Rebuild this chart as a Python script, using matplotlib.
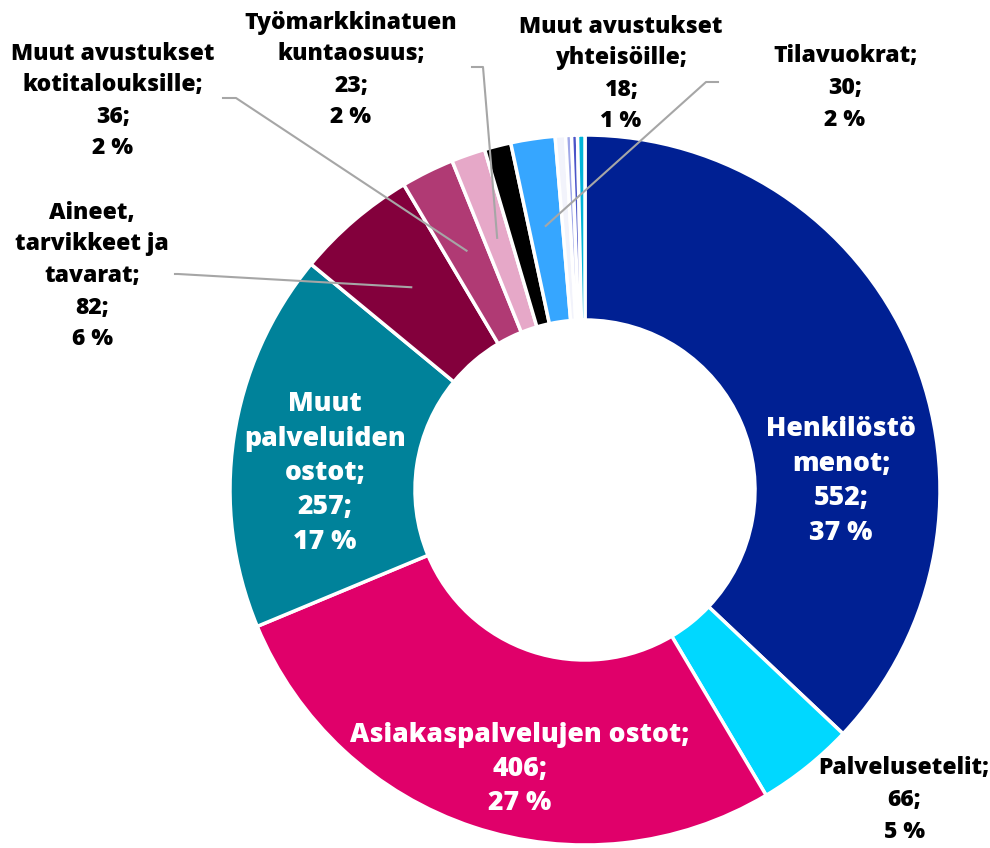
import numpy as np
import matplotlib.pyplot as plt

plt.rcParams['font.family'] = ['Open Sans', 'DejaVu Sans']

# data
categories = ['Henkilöstö\nmenot', 'Palvelusetelit', 'Asiakaspalvelujen ostot',
              'Muut\npalveluiden\nostot', 'Aineet,\ntarvikkeet ja\ntavarat',
              'Muut avustukset\nkotitalouksille', 'Työmarkkinatuen\nkuntaosuus',
              'Muut avustukset\nyhteisöille', 'Tilavuokrat', 'muu 1', 'muu 2', 'muu 3', 'muu 4']
values = [552, 66, 406, 257, 82, 36, 23, 18, 30, 7, 4, 4, 5]
percents = [37, 5, 27, 17, 6, 2, 2, 1, 2, 0, 0, 0, 0]
colors = ['#002093', '#00d8ff', '#e0006a', '#00829a', '#83003c', '#b03a74', '#e6a8c8',
          '#000000', '#36a6ff', '#f2f3fb', '#a0a8e8', '#4b55c8', '#00b4d8']

fig = plt.figure(figsize=(9.9, 8.48), dpi=100)
ax = fig.add_axes([0, 0, 1, 1])

cx, cy, R, r_in = 585, 848 - 490, 355, 170
wedges, _ = ax.pie(values, colors=colors, startangle=90, counterclock=False,
                   center=(cx, cy), radius=R, frame=True,
                   wedgeprops=dict(width=R - r_in, edgecolor='white', linewidth=2.5))
ax.set_xlim(0, 990)
ax.set_ylim(0, 848)
ax.set_aspect('equal')
ax.axis('off')

def lab(i):
    return f'{categories[i]};\n{values[i]};\n{percents[i]} %'

# inside labels (white)
inside = {0: (841, 481), 2: (520, 769), 3: (325, 473)}
for i, (x, y) in inside.items():
    ax.text(x, 848 - y, lab(i), color='white', fontsize=19.2, fontweight='extra bold',
            ha='center', va='center', linespacing=1.42)

# outside labels (black)
outside = {1: (904, 800), 4: (92, 276), 5: (113, 101), 6: (351, 70), 7: (621, 74), 8: (845, 88)}
for i, (x, y) in outside.items():
    ax.text(x, 848 - y, lab(i), color='black', fontsize=16.5, fontweight='extra bold',
            ha='center', va='center', linespacing=1.42)

# leader lines: from label edge to wedge middle
leader_start = {4: [(175, 274), (178, 274)], 5: [(223, 98), (236, 98)],
                6: [(472, 67), (483, 67)], 8: [(718, 82), (706, 82)]}
for i, pts in leader_start.items():
    w = wedges[i]
    mid = np.deg2rad((w.theta1 + w.theta2) / 2)
    ex, ey = cx + 267 * np.cos(mid), cy + 267 * np.sin(mid)
    xs = [pts[0][0], pts[1][0], ex]
    ys = [848 - pts[0][1], 848 - pts[1][1], ey]
    ax.plot(xs, ys, color='#a6a6a6', linewidth=1.5)

fig.savefig('out.png', dpi=100)
